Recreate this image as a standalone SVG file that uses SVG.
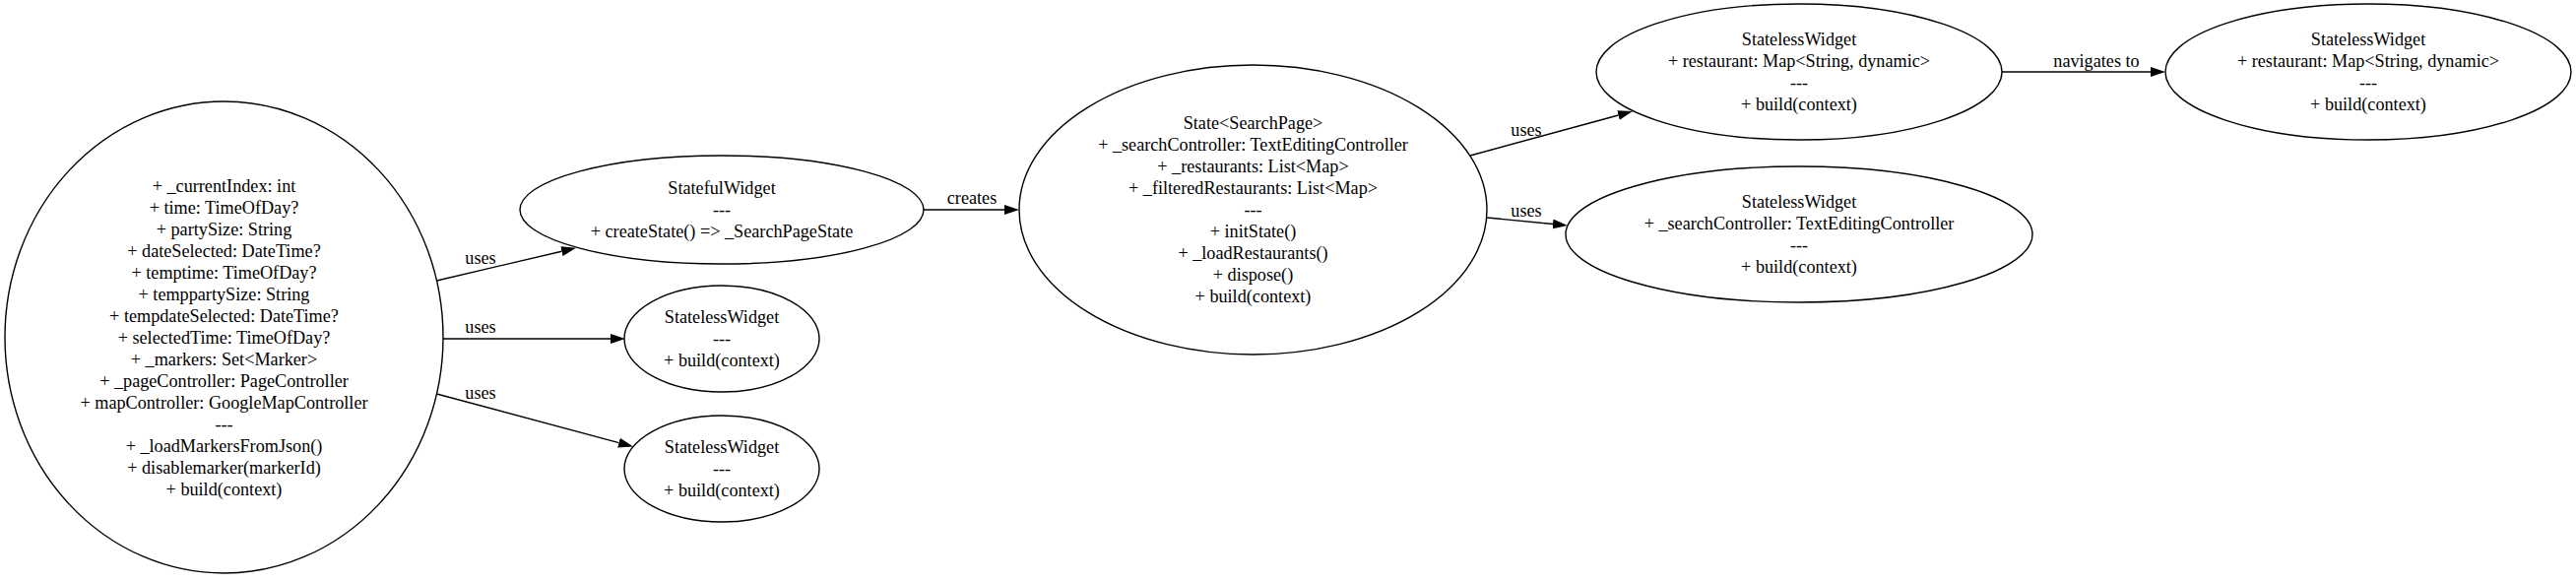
<svg xmlns="http://www.w3.org/2000/svg" width="2616" height="591" viewBox="0 0 2616 591">
<defs>
<style>
.node ellipse{fill:none;stroke:#000;stroke-width:1.4}
text{font-family:"Liberation Serif","Times New Roman",serif;font-size:18.2px;fill:#000;text-anchor:middle}
.edges path{fill:none;stroke:#000;stroke-width:1.4}
</style>
<marker id="arr" markerWidth="15" markerHeight="10" refX="0" refY="5" orient="auto" markerUnits="userSpaceOnUse">
<path d="M0,0 L15,5 L0,10 z" fill="#000"/>
</marker>
</defs>
<rect width="2616" height="591" fill="#fff"/>
<g id="searchPage" class="node">
<ellipse cx="227.5" cy="342.5" rx="222.5" ry="239.5"/>
<text x="227.5" y="195">+ _currentIndex: int</text>
<text x="227.5" y="217">+ time: TimeOfDay?</text>
<text x="227.5" y="239">+ partySize: String</text>
<text x="227.5" y="261">+ dateSelected: DateTime?</text>
<text x="227.5" y="283">+ temptime: TimeOfDay?</text>
<text x="227.5" y="305">+ temppartySize: String</text>
<text x="227.5" y="327">+ tempdateSelected: DateTime?</text>
<text x="227.5" y="349">+ selectedTime: TimeOfDay?</text>
<text x="227.5" y="371">+ _markers: Set&lt;Marker&gt;</text>
<text x="227.5" y="393">+ _pageController: PageController</text>
<text x="227.5" y="415">+ mapController: GoogleMapController</text>
<text x="227.5" y="437">---</text>
<text x="227.5" y="459">+ _loadMarkersFromJson()</text>
<text x="227.5" y="481">+ disablemarker(markerId)</text>
<text x="227.5" y="503">+ build(context)</text>
</g>
<g id="statefulWidget" class="node">
<ellipse cx="733" cy="213" rx="205" ry="55"/>
<text x="733" y="197">StatefulWidget</text>
<text x="733" y="219">---</text>
<text x="733" y="241">+ createState() =&gt; _SearchPageState</text>
</g>
<g id="statelessWidget1" class="node">
<ellipse cx="733" cy="344" rx="99" ry="54"/>
<text x="733" y="328">StatelessWidget</text>
<text x="733" y="350">---</text>
<text x="733" y="372">+ build(context)</text>
</g>
<g id="statelessWidget2" class="node">
<ellipse cx="733" cy="476" rx="99" ry="54"/>
<text x="733" y="460">StatelessWidget</text>
<text x="733" y="482">---</text>
<text x="733" y="504">+ build(context)</text>
</g>
<g id="searchPageState" class="node">
<ellipse cx="1272.5" cy="213" rx="237.5" ry="147"/>
<text x="1272.5" y="131">State&lt;SearchPage&gt;</text>
<text x="1272.5" y="153">+ _searchController: TextEditingController</text>
<text x="1272.5" y="175">+ _restaurants: List&lt;Map&gt;</text>
<text x="1272.5" y="197">+ _filteredRestaurants: List&lt;Map&gt;</text>
<text x="1272.5" y="219">---</text>
<text x="1272.5" y="241">+ initState()</text>
<text x="1272.5" y="263">+ _loadRestaurants()</text>
<text x="1272.5" y="285">+ dispose()</text>
<text x="1272.5" y="307">+ build(context)</text>
</g>
<g id="restaurantCard" class="node">
<ellipse cx="1827" cy="73" rx="206" ry="69"/>
<text x="1827" y="46">StatelessWidget</text>
<text x="1827" y="68">+ restaurant: Map&lt;String, dynamic&gt;</text>
<text x="1827" y="90">---</text>
<text x="1827" y="112">+ build(context)</text>
</g>
<g id="searchBar" class="node">
<ellipse cx="1827" cy="238" rx="237" ry="69"/>
<text x="1827" y="211">StatelessWidget</text>
<text x="1827" y="233">+ _searchController: TextEditingController</text>
<text x="1827" y="255">---</text>
<text x="1827" y="277">+ build(context)</text>
</g>
<g id="restaurantDetail" class="node">
<ellipse cx="2405" cy="73" rx="206" ry="69"/>
<text x="2405" y="46">StatelessWidget</text>
<text x="2405" y="68">+ restaurant: Map&lt;String, dynamic&gt;</text>
<text x="2405" y="90">---</text>
<text x="2405" y="112">+ build(context)</text>
</g>
<g id="connectors" class="edges">
<path d="M443.5,285 L570.4,255.2" marker-end="url(#arr)"/>
<text x="488" y="268">uses</text>
<path d="M450,344 L620,344" marker-end="url(#arr)"/>
<text x="488" y="338">uses</text>
<path d="M443.5,400 L628.5,449.6" marker-end="url(#arr)"/>
<text x="488" y="405">uses</text>
<path d="M938,213 L1020,213" marker-end="url(#arr)"/>
<text x="987" y="207">creates</text>
<path d="M1493,158 L1643.5,117" marker-end="url(#arr)"/>
<text x="1550" y="138">uses</text>
<path d="M1510,221 L1577,227.5" marker-end="url(#arr)"/>
<text x="1550" y="220">uses</text>
<path d="M2033,73 L2184,73" marker-end="url(#arr)"/>
<text x="2129" y="68">navigates to</text>
</g>
</svg>
